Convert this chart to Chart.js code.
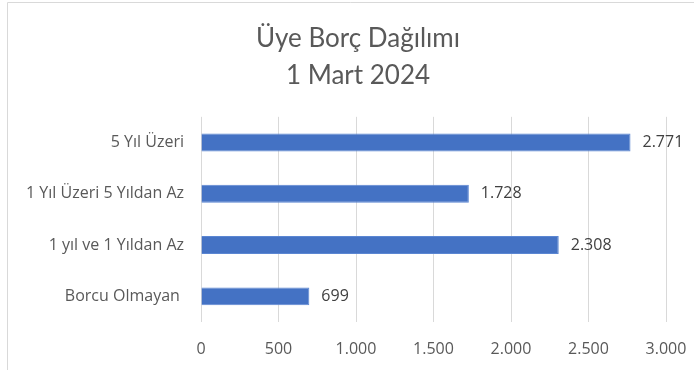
<!DOCTYPE html>
<html>
<head>
<meta charset="utf-8">
<script src="https://cdn.jsdelivr.net/npm/chart.js@4"></script>
<style>
  html, body { margin: 0; padding: 0; background: #fff; }
  #wrap { width: 694px; height: 370px; position: relative; }
</style>
</head>
<body>
<div id="wrap"><canvas id="myCanvas" width="694" height="370"></canvas></div>
<script>
// categories, top to bottom
let categories = ['5 Yıl Üzeri', '1 Yıl Üzeri 5 Yıldan Az', '1 yıl ve 1 Yıldan Az', 'Borcu Olmayan '];
let memberCounts = [2771, 1728, 2308, 699];
let axisTicks = [0, 500, 1000, 1500, 2000, 2500, 3000];
let titleLines = ['Üye Borç Dağılımı', '1 Mart 2024'];

let titleFont = 'Lato, sans-serif';
let labelFont = '"Open Sans", sans-serif';
let textColor = '#595959';

// 2771 -> "2.771"
function dotted(n) {
    return String(n).replace(/\B(?=(\d{3})+(?!\d))/g, '.');
}

// light frame on the left and top edge, title block nudged right
let framePlugin = {
    id: 'frame',
    afterLayout(chart) {
        let t = chart.titleBlock;
        if (t) {
            t.left = 50;
            t.width = t.right - t.left;
        }
    },
    beforeDraw(chart) {
        let ctx = chart.ctx;
        ctx.save();
        ctx.strokeStyle = '#d9d9d9';
        ctx.lineWidth = 1;
        ctx.beginPath();
        ctx.moveTo(7.5, 370);
        ctx.lineTo(7.5, 2.5);
        ctx.lineTo(694, 2.5);
        ctx.stroke();
        ctx.restore();
    }
};

// value next to the end of each bar
let valueLabels = {
    id: 'valueLabels',
    afterDatasetsDraw(chart) {
        let ctx = chart.ctx;
        let meta = chart.getDatasetMeta(0);
        ctx.save();
        ctx.font = '16px ' + labelFont;
        ctx.fillStyle = '#404040';
        ctx.textAlign = 'left';
        ctx.textBaseline = 'middle';
        meta.data.forEach(function(bar, i) {
            ctx.fillText(dotted(memberCounts[i]), bar.x + 12, bar.y);
        });
        ctx.restore();
    }
};

let data = {
    labels: categories,
    datasets: [{
        data: memberCounts,
        backgroundColor: '#4472C4',
        borderColor: '#5b86d2',
        borderWidth: 1,
        categoryPercentage: 0.7,
        barPercentage: 0.5
    }]
};

let options = {
    indexAxis: 'y',
    responsive: false,
    animation: false,
    layout: { padding: { left: 12, right: 28, top: 0, bottom: 11 } },
    plugins: {
        legend: { display: false },
        tooltip: { enabled: false },
        title: {
            display: true,
            text: titleLines,
            color: textColor,
            font: { family: titleFont, size: 26, weight: 'normal', lineHeight: 1.42 },
            padding: { top: 20, bottom: 23 }
        }
    },
    scales: {
        x: {
            min: axisTicks[0],
            max: axisTicks[axisTicks.length - 1],
            afterBuildTicks(scale) {
                scale.ticks = axisTicks.map(function(v) { return { value: v }; });
            },
            afterFit(scale) {
                scale.height = 37;
                scale.paddingLeft = 0;
                scale.paddingRight = 0;
            },
            grid: { color: '#d9d9d9', lineWidth: 1, drawTicks: false },
            border: { display: false },
            ticks: {
                color: textColor,
                font: { family: labelFont, size: 16 },
                padding: 18,
                maxRotation: 0,
                callback: function(v) { return dotted(v); }
            }
        },
        y: {
            afterFit(scale) {
                scale.width = 189;
                scale.paddingTop = 0;
                scale.paddingBottom = 0;
            },
            grid: { display: false, drawTicks: false },
            border: { display: false },
            ticks: {
                color: textColor,
                font: { family: labelFont, size: 16 },
                padding: 17
            }
        }
    }
};

var chrt = document.getElementById('myCanvas');
var myBarChart = new Chart(chrt, {
    type: 'bar',
    data: data,
    options: options,
    plugins: [framePlugin, valueLabels]
});
</script>
</body>
</html>
